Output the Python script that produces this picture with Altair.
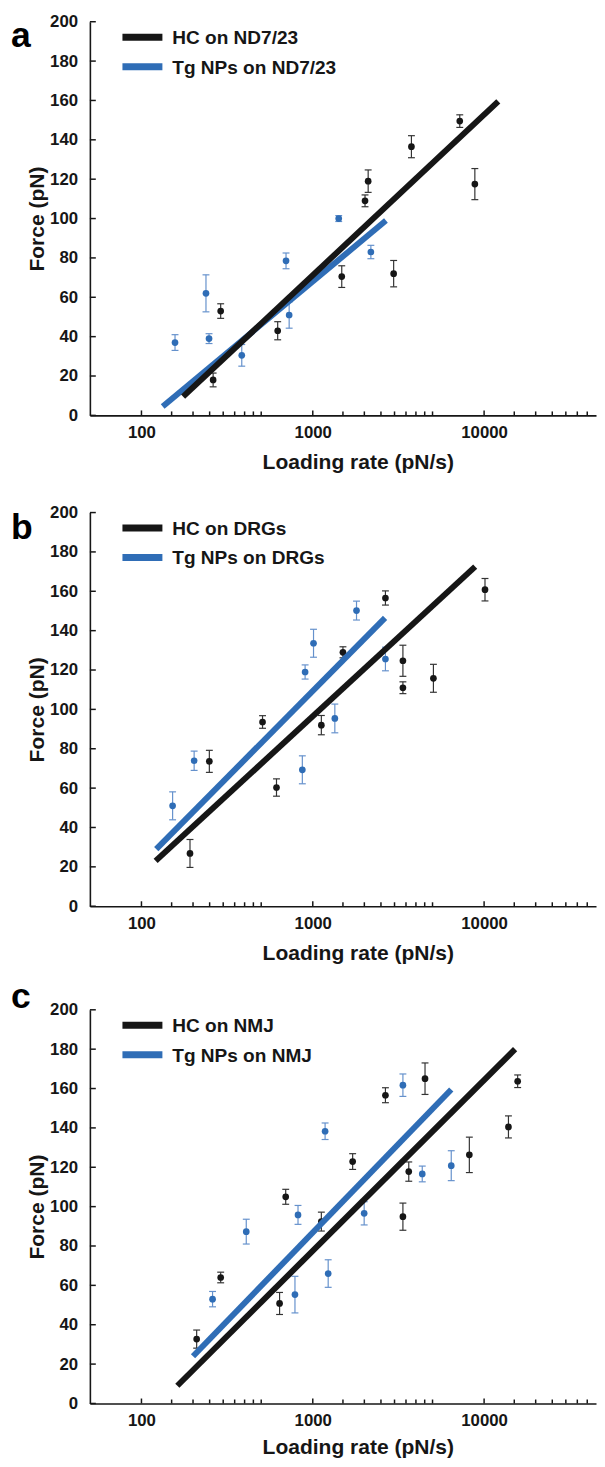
import altair as alt
import pandas as pd

FONT = "Liberation Sans"
INK = "#161616"
BLUE = "#2f6db6"
BLUE_ERR = "#6591cc"
INK_ERR = "#333333"

# ---------------- panel a : ND7/23 ----------------
a_hc_rate = [262, 290, 624, 1476, 2018, 2105, 2965, 3765, 7210, 8830]
a_hc_force = [18, 53, 43, 70.5, 109, 119, 72, 136.5, 149.5, 117.5]
a_hc_err = [3.5, 3.7, 4.6, 5.5, 3, 5.7, 6.7, 5.6, 3.2, 7.9]
a_tg_rate = [157, 238, 248, 385, 698, 728, 1417, 2183]
a_tg_force = [37, 62, 39, 30.5, 78.5, 51, 100, 83]
a_tg_err = [4, 9.4, 2.5, 5.5, 4, 6.7, 1.5, 3.4]
a_hc_fit_rate = [175, 12100]
a_hc_fit_force = [9.5, 159.5]
a_tg_fit_rate = [133, 2673]
a_tg_fit_force = [4.5, 99]
a_names = ["HC on ND7/23", "Tg NPs on ND7/23"]

# ---------------- panel b : DRGs ----------------
b_hc_rate = [192, 249, 509, 614, 1122, 1500, 2655, 3358, 3358, 5060, 10120]
b_hc_force = [26.8, 73.6, 93.6, 60.3, 92, 129, 156.6, 124.7, 111, 115.8, 160.8]
b_hc_err = [7.1, 5.6, 3.2, 4.4, 4.9, 2.8, 3.6, 7.9, 3, 7.1, 5.7]
b_tg_rate = [152, 203, 869, 902, 1010, 1345, 1800, 2655]
b_tg_force = [51, 73.9, 69.3, 119, 133.6, 95.4, 150.2, 125.6]
b_tg_err = [7.1, 4.9, 7.1, 3.6, 7.1, 7.3, 4.8, 6]
b_hc_fit_rate = [121, 8870]
b_hc_fit_force = [23, 172.5]
b_tg_fit_rate = [122, 2642]
b_tg_fit_force = [29, 146.5]
b_names = ["HC on DRGs", "Tg NPs on DRGs"]

# ---------------- panel c : NMJ ----------------
c_hc_rate = [210, 290, 640, 695, 1122, 1709, 2655, 3358, 3633, 4520, 8200, 13870, 15700]
c_hc_force = [32.7, 64, 50.8, 105, 92.4, 122.9, 156.6, 94.9, 117.8, 165, 126.3, 140.5, 163.7]
c_hc_err = [4.6, 2.7, 5.6, 3.8, 4.8, 4, 3.8, 6.9, 4.9, 8, 9, 5.6, 3.2]
c_tg_rate = [260, 409, 787, 820, 1180, 1230, 1995, 3358, 4355, 6430]
c_tg_force = [53, 87.3, 55.3, 95.8, 138.3, 66, 96.6, 161.7, 116.6, 120.8]
c_tg_err = [3.9, 6.3, 9.3, 4.8, 4.2, 7, 5.9, 5.7, 4, 7.6]
c_hc_fit_rate = [162, 15170]
c_hc_fit_force = [9, 180]
c_tg_fit_rate = [200, 6430]
c_tg_fit_force = [24, 159.5]
c_names = ["HC on NMJ", "Tg NPs on NMJ"]

X_DOMAIN = [50, 45000]
X_LABELS = [100, 1000, 10000]
X_MINOR = [150, 200, 250, 300, 350, 400, 450, 500,
           1500, 2000, 2500, 3000, 3500, 4000, 4500, 5000,
           15000, 20000, 25000, 30000, 35000, 40000]
Y_TICKS = [0, 20, 40, 60, 80, 100, 120, 140, 160, 180, 200]

W = 513            # plot width (log axis, 50 .. 45000)
PH = 399           # height of one panel's plot area
TOPS = [0, 497.5, 1001.5]
TOTAL_H = TOPS[2] + PH


def panel_layers(letter, names, hc, tg, hc_fit, tg_fit, top, letter_y, title_y):
    bottom = top + PH
    xs = alt.Scale(type="log", domain=X_DOMAIN, nice=False, range=[0, W])
    ys = alt.Scale(domain=[0, 200], nice=False, range=[bottom, top])
    xaxis = alt.Axis(orient="bottom", offset=bottom - TOTAL_H,
                     values=X_LABELS, format="d", grid=False,
                     labelFont=FONT, labelFontSize=17, labelFontWeight="bold",
                     labelColor=INK, labelPadding=9.5, labelFlush=False,
                     ticks=False, tickSize=0, domainColor=INK, domainWidth=1.6,
                     title="Loading rate (pN/s)", titleFont=FONT, titleFontSize=21.3,
                     titleFontWeight="bold", titleColor=INK, titleX=271.5, titleY=title_y,
                     titleAlign="center", titleBaseline="alphabetic")
    yaxis = alt.Axis(orient="left", values=Y_TICKS, grid=False,
                     labelFont=FONT, labelFontSize=17, labelFontWeight="bold",
                     labelColor=INK, labelPadding=12.5, labelFlush=False,
                     ticks=False, tickSize=0, domainColor=INK, domainWidth=1.6,
                     title="Force (pN)", titleFont=FONT, titleFontSize=21.3,
                     titleFontWeight="bold", titleColor=INK, titleX=-47.5,
                     titleY=top + PH / 2, titleAngle=270, titleAlign="center",
                     titleBaseline="alphabetic")

    def X(f, show=False):
        return alt.X(f, type="quantitative", scale=xs, axis=xaxis if show else None)

    def Y(f, show=False):
        return alt.Y(f, type="quantitative", scale=ys, axis=yaxis if show else None)

    layers = []
    layers.append(alt.Chart(pd.DataFrame({"v": Y_TICKS, "r": [X_DOMAIN[0]] * len(Y_TICKS)}))
                  .mark_rule(color=INK, strokeWidth=1.5)
                  .encode(y=Y("v", True), x=X("r", True), x2=alt.value(6)))
    layers.append(alt.Chart(pd.DataFrame({"v": X_LABELS})).mark_rule(color=INK, strokeWidth=1.5)
                  .encode(x=X("v"), y=alt.value(bottom), y2=alt.value(bottom - 5)))
    layers.append(alt.Chart(pd.DataFrame({"v": X_MINOR})).mark_rule(color=INK, strokeWidth=1.5)
                  .encode(x=X("v"), y=alt.value(bottom), y2=alt.value(bottom - 4)))

    for (rate, force, err), col, ecol in ((tg, BLUE, BLUE_ERR), (hc, INK, INK_ERR)):
        df = pd.DataFrame({"rate": rate, "force": force,
                           "lo": [f - e for f, e in zip(force, err)],
                           "hi": [f + e for f, e in zip(force, err)]})
        base = alt.Chart(df)
        layers.append(base.mark_rule(color=ecol, strokeWidth=1.2)
                      .encode(x=X("rate"), y=Y("lo"), y2="hi"))
        for end in ("lo", "hi"):
            layers.append(base.mark_rule(color=ecol, strokeWidth=1.2, xOffset=-3.5, x2Offset=3.5)
                          .encode(x=X("rate"), x2="rate", y=Y(end)))
        layers.append(base.mark_circle(color=col, size=46, opacity=1)
                      .encode(x=X("rate"), y=Y("force")))

    for (fr, ff), col in ((tg_fit, BLUE), (hc_fit, INK)):
        df = pd.DataFrame({"rate": fr, "force": ff})
        layers.append(alt.Chart(df).mark_line(color=col, strokeWidth=6, strokeCap="butt")
                      .encode(x=X("rate"), y=Y("force")))

    for i, (name, col) in enumerate(zip(names, [INK, BLUE])):
        ly = top + 15.7 + 29.9 * i
        ldf = pd.DataFrame({"name": [name]})
        layers.append(alt.Chart(ldf).mark_rule(color=col, strokeWidth=7)
                      .encode(x=alt.value(33), x2=alt.value(73.5), y=alt.value(ly)))
        layers.append(alt.Chart(ldf).mark_text(align="left", baseline="middle", font=FONT,
                                               fontSize=19.3, fontWeight="bold", color=INK)
                      .encode(x=alt.value(83.5), y=alt.value(ly + 1), text="name:N"))

    layers.append(alt.Chart(pd.DataFrame({"t": [letter]}))
                  .mark_text(align="left", baseline="alphabetic", font=FONT, fontSize=36,
                             fontWeight="bold", color="#000000")
                  .encode(x=alt.value(-80), y=alt.value(top + letter_y), text="t:N"))
    return layers


layers = []
layers += panel_layers("a", a_names, (a_hc_rate, a_hc_force, a_hc_err),
                       (a_tg_rate, a_tg_force, a_tg_err),
                       (a_hc_fit_rate, a_hc_fit_force), (a_tg_fit_rate, a_tg_fit_force),
                       top=TOPS[0], letter_y=25.5, title_y=53.8)
layers += panel_layers("b", b_names, (b_hc_rate, b_hc_force, b_hc_err),
                       (b_tg_rate, b_tg_force, b_tg_err),
                       (b_hc_fit_rate, b_hc_fit_force), (b_tg_fit_rate, b_tg_fit_force),
                       top=TOPS[1], letter_y=26.5, title_y=53.8)
layers += panel_layers("c", c_names, (c_hc_rate, c_hc_force, c_hc_err),
                       (c_tg_rate, c_tg_force, c_tg_err),
                       (c_hc_fit_rate, c_hc_fit_force), (c_tg_fit_rate, c_tg_fit_force),
                       top=TOPS[2], letter_y=-2, title_y=50.5)

chart = (alt.layer(*layers)
         .resolve_scale(x="independent", y="independent")
         .properties(width=W, height=TOTAL_H,
                     autosize=alt.AutoSizeParams(type="none"),
                     padding={"left": 83, "top": 4, "right": 1, "bottom": 55})
         .configure_view(stroke=None))

chart.save("out.html", embed_options={"renderer": "svg", "actions": False})
